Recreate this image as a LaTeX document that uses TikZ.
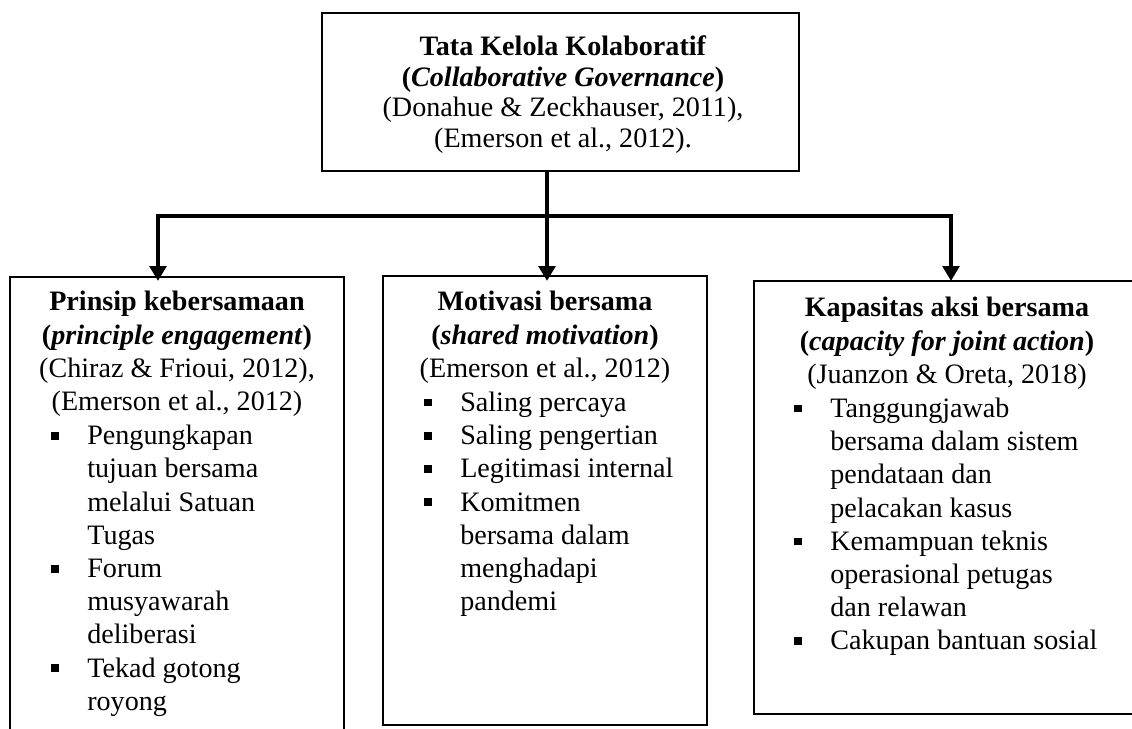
\documentclass[tikz,border=0pt]{standalone}
\usepackage{fontspec}
\setmainfont{Liberation Serif}
\usepackage{tikz}
\usetikzlibrary{arrows.meta,positioning,fit,calc}
\newcommand{\bul}{\makebox[20.5pt][l]{\rule[2.8pt]{4.4pt}{4.4pt}}}
\newcommand{\ind}{\hspace*{20.5pt}}
\tikzset{
  panel/.style={
    draw,
    line width=1.2pt,
    inner sep=0pt
  },
  headtext/.style={
    align=center,
    inner sep=0pt,
    anchor=north,
    font={\fontsize{16}{18.9}\selectfont},
    execute at begin node=\strut,
    execute at end node=\strut
  },
  toptext/.style={
    headtext,
    font={\fontsize{16}{17.6}\selectfont}
  },
  listtext/.style={
    align=left,
    inner sep=0pt,
    anchor=north west,
    font={\fontsize{16}{18.9}\selectfont},
    execute at begin node=\strut,
    execute at end node=\strut
  },
  link/.style={line width=2.3pt},
  arrow/.style={-{Triangle[length=8.5pt,width=9.5pt]}, line width=2.3pt}
}

\begin{document}
\begin{tikzpicture}[x=0.02cm, y=-0.02cm]
  \useasboundingbox (0,0) rectangle (1132,729);

  \node[panel, fit={(322,13) (799,171)}] (top) {};
  \node[panel, fit={(10,277) (344,745)}] (b1) {};
  \node[panel, fit={(383,276) (707,725)}] (b2) {};
  \node[panel, fit={(754,281) (1140,714)}] (b3) {};

  \node[toptext] (t0) at ($(top.north)+(2.5,23)$) {\textbf{Tata Kelola Kolaboratif}\\ \textbf{(\textit{Collaborative Governance})}\\ (Donahue \& Zeckhauser, 2011),\\ (Emerson et al., 2012).};

  \node[headtext] (t1) at ($(b1.north)+(0,15)$) {\textbf{Prinsip kebersamaan}\\ \textbf{(\textit{principle engagement})}\\ (Chiraz \& Frioui, 2012),\\ (Emerson et al., 2012)};
  \node[listtext] (l1) at ($(b1.west |- t1.south)+(42,4)$) {\bul Pengungkapan\\ \ind tujuan bersama\\ \ind melalui Satuan\\ \ind Tugas\\ \bul Forum\\ \ind musyawarah\\ \ind deliberasi\\ \bul Tekad gotong\\ \ind royong};

  \node[headtext] (t2) at ($(b2.north)+(0,16)$) {\textbf{Motivasi bersama}\\ \textbf{(\textit{shared motivation})}\\ (Emerson et al., 2012)};
  \node[listtext] (l2) at ($(b2.west |- t2.south)+(42,4)$) {\bul Saling percaya\\ \bul Saling pengertian\\ \bul Legitimasi internal\\ \bul Komitmen\\ \ind bersama dalam\\ \ind menghadapi\\ \ind pandemi};

  \node[headtext] (t3) at ($(b3.north)+(0,17)$) {\textbf{Kapasitas aksi bersama}\\ \textbf{(\textit{capacity for joint action})}\\ (Juanzon \& Oreta, 2018)};
  \node[listtext] (l3) at ($(b3.west |- t3.south)+(41,4)$) {\bul Tanggungjawab\\ \ind bersama dalam sistem\\ \ind pendataan dan\\ \ind pelacakan kasus\\ \bul Kemampuan teknis\\ \ind operasional petugas\\ \ind dan relawan\\ \bul Cakupan bantuan sosial};

  \coordinate (hub) at (547,216);
  \coordinate (tipA) at ($(b1.north)+(-19,5)$);
  \coordinate (tipB) at ($(b2.north)+(2,6)$);
  \coordinate (tipC) at ($(b3.north)+(4,1)$);

  \draw[link] (top.south -| hub) -- (hub);
  \draw[arrow] (hub) -| (tipA);
  \draw[arrow] (hub) -- (tipB);
  \draw[arrow] (hub) -| (tipC);
\end{tikzpicture}
\end{document}
